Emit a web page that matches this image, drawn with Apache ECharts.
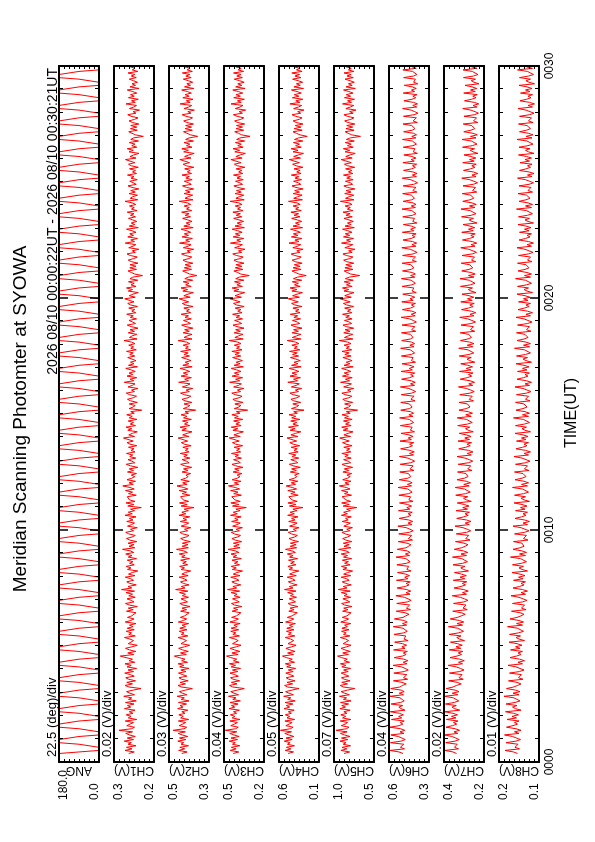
<!DOCTYPE html>
<html>
<head>
<meta charset="utf-8">
<script src="https://cdn.jsdelivr.net/npm/echarts/dist/echarts.min.js"></script>
<style>
html,body{margin:0;padding:0;background:#fff;width:595px;height:842px;overflow:hidden}
#wrap{position:absolute;left:0;top:0;width:842px;height:595px;transform-origin:0 0;transform:translate(0px,842px) rotate(-90deg)}
#chart{width:842px;height:595px;background:#fff}
</style>
</head>
<body>
<div id="wrap"><div id="chart"></div></div>
<script>
// ---------------- DATA ----------------
const titleText = 'Meridian Scanning Photomter at SYOWA';
const periodText = '2026 08/10 00:00:22UT - 2026 08/10 00:30:21UT';
const timeAxisTitle = 'TIME(UT)';
const panelNames = ['ANG', 'CH1(V)', 'CH2(V)', 'CH3(V)', 'CH4(V)', 'CH5(V)', 'CH6(V)', 'CH7(V)', 'CH8(V)'];
const divLabels = ['22.5 (deg)/div', '0.02 (V)/div', '0.03 (V)/div', '0.04 (V)/div', '0.05 (V)/div', '0.07 (V)/div', '0.04 (V)/div', '0.02 (V)/div', '0.01 (V)/div'];
const valueDiv = [22.5, 0.02, 0.03, 0.04, 0.05, 0.07, 0.04, 0.02, 0.01];
const valueMin = [0, 0.18, 0.27, 0.20, 0.15, 0.49, 0.28, 0.22, 0.12];
const valueMax = [180, 0.34, 0.51, 0.52, 0.55, 1.05, 0.60, 0.38, 0.20];
const maxLabels = ['180.0', '0.3', '0.5', '0.5', '0.6', '1.0', '0.6', '0.4', '0.2'];
const minLabels = ['0.0', '0.2', '0.3', '0.2', '0.1', '0.5', '0.3', '0.2', '0.1'];
const timeLabels = ['0000', '0010', '0020', '0030'];
const timeAxisMinSec = 0, timeAxisMaxSec = 1800, timeMajorSec = 600;
const sampleStartSec = 22, sampleStepSec = 4;

// scan angle (deg), one value per sample
const angDeg = [
180,90,0,0,0,0,90,180,180,180,180,90,0,0,0,0,90,180,180,180,180,90,0,0,0,0,90,180,180,180,180,90,0,0,0,0,90,180,180,180,180,90,0,0,0,0,90,180,180,180,
180,90,0,0,0,0,90,180,180,180,180,90,0,0,0,0,90,180,180,180,180,90,0,0,0,0,90,180,180,180,180,90,0,0,0,0,90,180,180,180,180,90,0,0,0,0,90,180,180,180,
180,90,0,0,0,0,90,180,180,180,180,90,0,0,0,0,90,180,180,180,180,90,0,0,0,0,90,180,180,180,180,90,0,0,0,0,90,180,180,180,180,90,0,0,0,0,90,180,180,180,
180,90,0,0,0,0,90,180,180,180,180,90,0,0,0,0,90,180,180,180,180,90,0,0,0,0,90,180,180,180,180,90,0,0,0,0,90,180,180,180,180,90,0,0,0,0,90,180,180,180,
180,90,0,0,0,0,90,180,180,180,180,90,0,0,0,0,90,180,180,180,180,90,0,0,0,0,90,180,180,180,180,90,0,0,0,0,90,180,180,180,180,90,0,0,0,0,90,180,180,180,
180,90,0,0,0,0,90,180,180,180,180,90,0,0,0,0,90,180,180,180,180,90,0,0,0,0,90,180,180,180,180,90,0,0,0,0,90,180,180,180,180,90,0,0,0,0,90,180,180,180,
180,90,0,0,0,0,90,180,180,180,180,90,0,0,0,0,90,180,180,180,180,90,0,0,0,0,90,180,180,180,180,90,0,0,0,0,90,180,180,180,180,90,0,0,0,0,90,180,180,180,
180,90,0,0,0,0,90,180,180,180,180,90,0,0,0,0,90,180,180,180,180,90,0,0,0,0,90,180,180,180,180,90,0,0,0,0,90,180,180,180,180,90,0,0,0,0,90,180,180,180,
180,90,0,0,0,0,90,180,180,180,180,90,0,0,0,0,90,180,180,180,180,90,0,0,0,0,90,180,180,180,180,90,0,0,0,0,90,180,180,180,180,90,0,0,0,0,90,180,180,180];

// channel values in mV, one value per sample
const ch1mV = [
281,259,296,268,290,252,284,271,299,262,287,255,278,293,266,320,270,258,289,276,262,295,249,283,272,291,264,279,256,298,273,286,260,294,251,282,269,301,258,277,290,263,232,280,296,
266,289,254,281,293,259,275,297,262,284,250,288,271,296,257,280,266,292,315,261,285,253,278,294,268,247,283,290,262,276,298,255,281,270,291,259,287,264,278,252,295,273,260,286,269,
274,252,290,263,283,247,279,294,260,271,288,255,281,266,292,258,310,269,284,251,277,289,262,273,295,256,282,267,245,286,272,291,259,278,264,287,250,283,268,293,261,275,306,257,280,
260,284,249,277,290,268,255,281,293,262,274,247,286,270,258,289,264,279,252,296,267,283,258,274,231,285,261,292,256,278,270,287,251,282,266,294,259,276,305,263,280,254,288,269,257,
271,250,286,262,279,245,274,291,257,268,284,253,277,265,290,256,272,260,282,249,276,288,263,270,302,258,281,266,247,285,269,292,254,275,262,283,248,279,267,289,259,273,229,280,264,
255,279,247,273,286,263,250,278,291,258,270,244,284,267,256,299,261,276,249,288,265,280,255,271,293,246,282,260,274,252,268,285,257,277,263,290,251,273,262,281,256,270,300,248,278,
268,249,283,258,276,244,271,287,254,266,280,250,275,263,289,253,269,257,281,246,274,285,260,268,297,255,279,264,243,283,266,290,252,272,259,282,245,276,265,226,257,271,284,250,277,
252,276,244,270,283,261,247,275,288,255,267,241,281,264,253,295,258,273,246,285,262,277,252,268,290,243,279,257,271,249,265,282,254,274,260,287,248,270,259,278,253,267,296,245,275,
265,246,280,255,273,241,268,284,251,263,277,247,272,260,286,250,266,254,278,243,271,282,257,265,294,252,276,261,240,280,263,287,249,269,256,279,242,273,262,223,254,268,281,247,274,
249,273,241,267,280,258,244,272,285,252,264,238,278,261,250,292,255,270,243,282,259,274,249,265,287,240,276,254,268,246,262,279,251,271,257,284,245,267,256,275,250,264,291,242,272];
const ch2mV = [
434,401,452,416,445,393,438,422,457,409,447,398,431,455,412,485,420,404,449,428,410,454,392,440,424,451,414,433,397,458,426,444,405,453,390,437,418,461,403,430,448,411,370,436,456,
411,444,395,434,450,403,427,453,408,439,390,446,421,455,399,434,414,449,478,406,441,394,429,452,417,386,438,447,405,426,456,397,436,420,449,402,445,411,431,392,454,424,404,442,416,
418,389,440,405,432,384,426,445,399,416,438,393,430,411,447,397,470,414,436,390,424,441,402,419,449,395,433,412,380,438,417,446,398,428,406,440,387,434,413,448,400,422,465,394,431,
396,430,382,421,440,407,390,428,445,398,417,379,437,411,392,442,404,426,386,450,409,433,394,419,360,437,401,447,392,425,413,441,385,431,405,449,397,422,462,402,428,388,439,410,395,
408,380,432,396,423,374,416,440,390,405,431,385,421,400,442,389,412,395,427,377,418,436,398,409,455,391,428,401,372,433,406,444,386,417,397,429,376,423,402,438,393,414,350,424,400,
385,420,373,414,432,396,379,418,441,388,407,368,430,401,384,452,393,416,376,437,399,424,386,410,444,371,427,391,413,378,403,434,387,419,395,440,380,411,394,425,386,405,455,372,420,
400,372,425,388,416,367,409,434,381,398,423,376,414,393,437,380,405,388,421,366,411,430,392,402,450,383,421,396,364,427,399,438,377,410,390,425,368,415,395,343,386,407,428,375,418,
379,414,367,408,426,390,373,412,435,382,401,362,424,395,378,447,387,410,370,431,393,418,380,404,438,365,421,385,407,372,397,428,381,413,389,434,374,405,388,419,380,399,449,366,414,
395,368,420,383,411,362,404,429,376,393,418,371,409,388,432,375,400,383,416,361,406,425,387,397,445,378,416,391,359,422,394,433,372,405,385,420,363,410,390,338,381,402,423,370,413,
375,410,363,404,422,386,369,408,431,378,397,358,420,391,374,443,383,406,366,427,389,414,376,400,434,361,417,381,403,368,393,424,377,409,385,430,370,401,384,415,376,395,445,362,410];
const ch3mV = [
447,402,470,423,461,394,452,430,478,412,464,399,441,474,418,510,428,406,466,437,413,473,392,455,433,469,419,444,397,480,434,460,407,472,389,450,424,484,404,440,466,414,358,450,476,
416,461,395,447,468,405,434,472,410,452,388,463,428,476,399,444,418,466,500,407,457,393,437,471,421,384,452,465,406,432,477,396,449,425,466,403,463,415,441,391,473,430,405,459,420,
425,385,455,410,444,378,436,460,398,421,452,391,440,416,463,395,492,419,449,386,431,457,401,424,466,392,446,417,372,453,422,462,396,437,408,456,382,447,418,464,400,429,486,391,442,
399,445,379,431,457,411,388,438,462,397,423,373,451,416,390,459,407,434,383,468,413,446,392,425,342,452,401,465,390,433,418,458,381,442,408,467,395,430,484,403,437,385,455,414,392,
415,377,447,400,435,368,426,456,389,408,444,381,432,404,460,387,419,394,439,371,427,452,398,413,478,390,441,405,365,449,410,462,383,425,396,443,370,436,406,457,392,421,331,437,402,
385,433,369,425,449,399,376,430,458,387,413,361,443,405,381,475,395,427,371,455,402,437,384,418,462,365,440,391,423,373,408,451,386,431,397,457,376,420,396,438,384,410,478,367,433,
405,368,439,389,427,360,416,448,379,400,435,372,423,395,451,376,410,385,430,359,420,444,391,406,472,381,432,398,355,441,402,455,373,417,389,436,361,426,398,318,386,411,441,369,430,
377,425,360,417,440,391,367,421,450,378,404,352,435,397,373,469,387,418,362,447,394,429,375,410,455,357,432,382,415,364,400,443,378,423,389,449,368,412,388,430,376,402,471,358,425,
398,362,432,382,420,354,409,441,372,393,428,366,416,388,444,370,403,378,423,353,413,437,384,399,465,375,425,391,349,434,395,448,367,410,382,429,355,419,392,312,379,404,434,363,423,
372,420,355,412,435,386,362,416,445,373,399,347,430,392,368,464,382,413,357,442,389,424,370,405,450,352,427,377,410,359,395,438,373,418,384,444,363,407,383,425,371,397,466,353,420];
const ch4mV = [
459,405,488,431,476,395,466,439,497,418,480,401,452,492,425,535,436,409,482,448,419,491,393,470,443,486,426,456,398,499,444,477,411,489,388,463,432,503,406,451,484,420,350,463,494,
414,470,390,451,478,402,437,482,408,457,384,473,431,487,395,449,417,476,515,405,464,389,441,481,421,379,460,474,403,433,488,392,456,427,476,400,472,414,446,386,484,432,402,467,419,
417,368,452,399,439,360,430,459,384,412,448,375,436,406,463,380,495,410,447,369,424,456,389,416,468,377,443,408,352,450,414,461,381,433,396,455,364,445,409,466,386,420,485,374,438,
379,436,355,418,450,393,366,426,457,377,407,349,444,400,369,453,389,424,360,463,396,438,371,411,310,446,382,461,368,421,402,452,358,432,390,462,374,418,478,385,427,362,449,397,372,
394,348,437,376,424,337,410,447,362,386,432,353,419,381,452,358,400,368,428,343,408,442,373,391,470,362,431,384,332,439,389,455,356,411,372,433,341,423,383,449,366,403,300,425,378,
353,412,334,402,431,371,343,408,441,355,386,324,426,379,347,462,365,405,336,440,374,420,351,393,448,329,424,360,399,337,381,436,354,414,368,444,342,398,367,422,352,384,468,331,417,
375,330,419,356,404,320,392,430,343,368,415,335,401,363,437,340,384,350,411,321,391,424,357,373,457,346,414,368,316,421,371,439,338,395,356,417,323,406,366,278,351,387,420,329,409,
339,397,319,388,418,357,328,394,428,341,372,309,412,364,333,450,350,391,321,426,360,406,336,379,435,314,410,346,385,323,367,423,340,400,354,431,328,384,353,409,338,370,455,316,403,
364,319,408,345,393,309,381,420,332,357,404,324,390,352,427,329,373,339,400,310,380,414,346,362,447,335,403,357,305,410,360,429,327,384,345,406,312,395,355,268,340,376,410,318,398,
330,388,310,379,409,348,319,385,419,332,363,300,403,355,324,441,341,382,312,417,351,397,327,370,426,305,401,337,376,314,358,414,331,391,345,422,319,375,344,400,329,361,446,307,394];
const ch5mV = [
910,832,953,870,937,818,922,882,966,857,945,826,903,960,866,1020,878,840,948,895,861,962,815,930,886,955,869,912,824,968,889,941,846,958,812,918,875,973,836,902,950,862,760,918,963,
860,941,825,906,945,843,894,950,851,915,818,940,883,960,832,906,863,944,1000,848,928,822,897,952,871,811,923,943,845,889,961,828,917,880,944,840,939,862,902,815,955,890,846,934,868,
881,811,930,855,914,799,901,943,829,868,926,818,909,866,948,823,990,868,919,808,888,934,838,872,950,816,915,859,790,925,870,946,825,902,848,933,803,917,861,949,836,882,985,815,910,
838,920,802,885,928,859,815,893,939,829,872,792,913,866,821,935,852,888,808,946,862,915,821,874,730,922,836,943,817,884,867,937,805,904,854,945,826,878,975,839,897,812,928,860,823,
869,803,925,843,906,789,886,937,817,851,915,810,898,850,940,814,874,829,913,797,882,930,836,857,970,818,911,852,783,921,857,942,810,888,836,917,796,903,848,938,823,877,720,908,846,
816,901,790,886,927,842,800,894,940,812,860,775,915,852,806,958,833,890,795,932,846,907,814,870,943,782,910,826,878,797,855,925,811,898,838,938,802,879,837,909,811,857,975,786,903,
852,788,914,826,895,775,874,925,803,838,903,797,885,834,930,800,862,814,901,776,872,918,823,846,963,808,900,841,770,910,844,932,796,876,823,907,781,891,836,690,816,866,908,784,897,
802,885,773,872,915,828,785,878,925,796,845,757,898,836,788,945,819,875,777,917,831,892,798,856,930,766,896,810,862,780,840,910,794,883,824,924,786,863,822,894,798,842,960,770,888,
838,773,900,811,880,758,861,912,789,824,890,782,871,820,917,786,848,800,887,760,858,904,808,832,950,795,886,826,753,896,830,919,781,862,809,893,766,877,822,680,802,852,894,769,883,
788,871,759,858,901,814,771,864,911,782,831,743,884,822,774,931,805,861,763,903,817,878,784,842,916,752,882,796,848,766,826,896,780,869,810,910,772,849,808,880,784,828,946,756,874];
const ch6mV = [
488,520,592,476,509,515,482,588,503,470,497,526,585,481,512,474,506,594,519,489,510,478,580,498,523,485,517,590,472,504,521,490,583,507,478,495,512,591,484,518,479,503,586,513,492,
462,496,565,451,484,490,458,561,477,446,471,500,567,455,487,449,482,558,493,463,486,453,563,472,497,459,491,555,447,480,495,466,560,482,454,468,488,566,459,492,454,478,557,488,466,
440,472,542,428,461,467,435,538,454,423,448,477,545,432,464,426,459,535,470,440,463,430,540,449,474,436,468,532,424,457,472,443,537,459,431,445,465,543,436,469,431,455,534,465,443,
424,456,526,412,445,451,419,522,438,407,432,461,529,416,448,410,443,519,454,424,447,414,524,433,458,420,452,516,408,441,456,427,521,443,415,429,449,527,420,453,415,439,518,449,427,
412,444,514,400,433,439,407,510,426,395,420,449,517,404,436,398,431,507,442,412,435,402,512,421,446,408,440,504,396,429,444,415,509,431,403,417,437,515,408,441,403,427,506,437,415,
404,436,506,392,425,431,399,502,418,387,412,441,509,396,428,390,423,499,434,404,427,394,504,413,438,400,432,496,388,421,436,407,501,423,395,409,429,507,400,433,395,419,498,429,407,
398,430,500,386,419,425,393,496,412,381,406,435,503,390,422,384,417,493,428,398,421,388,498,407,432,394,426,490,382,415,430,401,495,417,389,403,423,501,394,427,389,413,492,423,401,
393,425,495,381,414,420,388,491,407,376,401,430,498,385,417,379,412,488,423,393,416,383,493,402,427,389,421,485,377,410,425,396,490,412,384,398,418,496,389,422,384,408,487,418,396,
389,421,491,377,410,416,384,487,403,372,397,426,494,381,413,375,408,484,419,389,412,379,489,398,423,385,417,481,373,406,421,392,486,408,380,394,414,492,385,418,380,404,483,414,392,
386,418,488,374,407,413,381,484,400,369,394,423,491,378,410,372,405,481,416,386,409,376,486,395,420,382,414,478,370,403,418,389,483,405,377,391,411,489,382,415,377,401,480,411,389];
const ch7mV = [
330,344,376,322,338,341,327,373,336,319,333,349,378,325,340,318,335,372,346,329,342,324,370,332,350,326,345,377,317,337,348,331,374,339,321,328,343,379,325,347,320,336,371,344,330,
311,327,361,303,320,324,308,358,317,300,314,331,363,306,322,299,317,356,328,310,323,305,359,313,332,307,326,354,298,318,329,312,360,321,302,309,325,362,306,328,301,318,355,326,311,
295,311,345,287,304,308,292,342,301,284,298,315,347,290,306,283,301,340,312,294,307,289,343,297,316,291,310,338,282,302,313,296,344,305,286,293,309,346,290,312,285,302,339,310,295,
284,300,334,276,293,297,281,331,290,273,287,304,336,279,295,272,290,329,301,283,296,278,332,286,305,280,299,327,271,291,302,285,333,294,275,282,298,335,279,301,274,291,328,299,284,
276,292,326,268,285,289,273,323,282,265,279,296,328,271,287,264,282,321,293,275,288,270,324,278,297,272,291,319,263,283,294,277,325,286,267,274,290,327,271,293,266,283,320,291,276,
270,286,320,262,279,283,267,317,276,259,273,290,322,265,281,258,276,315,287,269,282,264,318,272,291,266,285,313,257,277,288,271,319,280,261,268,284,321,265,287,260,277,314,285,270,
265,281,315,257,274,278,262,312,271,254,268,285,317,260,276,253,271,310,282,264,277,259,313,267,286,261,280,308,252,272,283,266,314,275,256,263,279,316,260,282,255,272,309,280,265,
261,277,311,253,270,274,258,308,267,250,264,281,313,256,272,249,267,306,278,260,273,255,309,263,282,257,276,304,248,268,279,262,310,271,252,259,275,312,256,278,251,268,305,276,261,
257,273,307,249,266,270,254,304,263,246,260,277,309,252,268,245,263,302,274,256,269,251,305,259,278,253,272,300,244,264,275,258,306,267,248,255,271,308,252,274,247,264,301,272,257,
253,269,303,245,262,266,250,300,259,242,256,273,305,248,264,241,259,298,270,252,265,247,301,255,274,249,268,296,240,260,271,254,302,263,244,251,267,304,248,270,243,260,297,268,253];
const ch8mV = [
163,171,188,159,168,170,162,186,166,157,165,173,189,160,169,156,166,185,172,163,169,160,184,165,174,161,171,187,156,167,173,164,186,168,158,162,170,190,160,172,158,167,185,171,163,
156,164,181,152,161,163,155,179,159,150,158,166,182,153,162,149,159,178,165,156,162,153,177,158,167,154,164,180,149,160,166,157,179,161,151,155,163,183,153,165,151,160,178,164,156,
150,158,175,146,155,157,149,173,153,144,152,160,176,147,156,143,153,172,159,150,156,147,171,152,161,148,158,174,143,154,160,151,173,155,145,149,157,177,147,159,145,154,172,158,150,
146,154,171,142,151,153,145,169,149,140,148,156,172,143,152,139,149,168,155,146,152,143,167,148,157,144,154,170,139,150,156,147,169,151,141,145,153,173,143,155,141,150,168,154,146,
144,152,169,140,149,151,143,167,147,138,146,154,170,141,150,137,147,166,153,144,150,141,165,146,155,142,152,168,137,148,154,145,167,149,139,143,151,171,141,153,139,148,166,152,144,
142,150,167,138,147,149,141,165,145,136,144,152,168,139,148,135,145,164,151,142,148,139,163,144,153,140,150,166,135,146,152,143,165,147,137,141,149,169,139,151,137,146,164,150,142,
140,148,165,136,145,147,139,163,143,134,142,150,166,137,146,133,143,162,149,140,146,137,161,142,151,138,148,164,133,144,150,141,163,145,135,139,147,167,137,149,135,144,162,148,140,
138,146,163,134,143,145,137,161,141,132,140,148,164,135,144,131,141,160,147,138,144,135,159,140,149,136,146,162,131,142,148,139,161,143,133,137,145,165,135,147,133,142,160,146,138,
137,145,162,133,142,144,136,160,140,131,139,147,163,134,143,130,140,159,146,137,143,134,158,139,148,135,145,161,130,141,147,138,160,142,132,136,144,164,134,146,132,141,159,145,137,
136,144,161,132,141,143,135,159,139,130,138,146,162,133,142,129,139,158,145,136,142,133,157,138,147,134,144,160,129,140,146,137,159,141,131,135,143,163,133,145,131,140,158,144,136];

// ---------------- BUILD ----------------
const FONT = "'Liberation Sans', Arial, Helvetica, sans-serif";
const chart = echarts.init(document.getElementById('chart'), null, {renderer: 'canvas', width: 842, height: 595});
const panelValues = [
  angDeg,
  ch1mV.map(v => v / 1000), ch2mV.map(v => v / 1000), ch3mV.map(v => v / 1000), ch4mV.map(v => v / 1000),
  ch5mV.map(v => v / 1000), ch6mV.map(v => v / 1000), ch7mV.map(v => v / 1000), ch8mV.map(v => v / 1000)
];

const PLOT_LEFT = 80, PLOT_WIDTH = 696, PANEL_TOP0 = 59, PANEL_STEP = 55, PANEL_H = 40;
const grids = [], xAxes = [], yAxes = [], series = [], graphics = [];

for (let i = 0; i < panelNames.length; i++) {
  const top = PANEL_TOP0 + PANEL_STEP * i;
  grids.push({left: PLOT_LEFT, width: PLOT_WIDTH, top: top, height: PANEL_H, containLabel: false});
  const timeBase = {
    type: 'value', gridIndex: i, min: timeAxisMinSec, max: timeAxisMaxSec, interval: timeMajorSec, z: 5,
    axisLine: {show: true, onZero: false, lineStyle: {color: '#000', width: 2}},
    axisTick: {show: true, inside: true, length: 9, lineStyle: {color: '#000', width: 1.5}},
    minorTick: {show: true, splitNumber: 10, length: 4, lineStyle: {color: '#000', width: 1}},
    splitLine: {show: false}, minorSplitLine: {show: false}
  };
  xAxes.push(Object.assign({}, timeBase, {
    position: 'bottom',
    axisLabel: {show: i === panelNames.length - 1, margin: 5, fontSize: 12, color: '#000', fontFamily: FONT,
      formatter: v => timeLabels[Math.round((v - timeAxisMinSec) / timeMajorSec)] || ''}
  }));
  xAxes.push(Object.assign({}, timeBase, {position: 'top', axisLabel: {show: false}}));

  const vmin = valueMin[i], vmax = valueMax[i];
  const valBase = {
    type: 'value', gridIndex: i, min: vmin, max: vmax, interval: valueDiv[i], z: 5,
    axisLine: {show: true, onZero: false, lineStyle: {color: '#000', width: 2}},
    axisTick: {show: true, inside: true, length: 3, lineStyle: {color: '#000', width: 1}},
    splitLine: {show: false}
  };
  yAxes.push(Object.assign({}, valBase, {
    position: 'left',
    axisLabel: {
      show: true, margin: 38, align: 'left', fontSize: 12, color: '#000', fontFamily: FONT,
      showMinLabel: true, showMaxLabel: true,
      formatter: (v) => {
        if (Math.abs(v - vmax) < 1e-9) return '{hi|' + maxLabels[i] + '}';
        if (Math.abs(v - vmin) < 1e-9) return '{lo|' + minLabels[i] + '}';
        return '';
      },
      rich: {
        hi: {padding: [9, 0, 0, 0], fontSize: 12, color: '#000', fontFamily: FONT},
        lo: {padding: [0, 0, 9, 0], fontSize: 12, color: '#000', fontFamily: FONT}
      }
    }
  }));
  yAxes.push(Object.assign({}, valBase, {position: 'right', axisLabel: {show: false}}));

  const vals = panelValues[i];
  const data = vals.map((v, k) => [sampleStartSec + k * sampleStepSec, v]);
  series.push({
    type: 'line', xAxisIndex: 2 * i, yAxisIndex: 2 * i, data: data,
    showSymbol: false, symbol: 'none', smooth: false, z: 2,
    lineStyle: {color: '#ff0000', width: 1}, animation: false
  });

  // per-panel scale label and axis name
  graphics.push({type: 'text', x: 85, y: top - 6.5,
    style: {text: divLabels[i], font: '13px ' + FONT, fill: '#000', textAlign: 'left', textVerticalAlign: 'middle'}});
  graphics.push({type: 'text', x: 71.5, y: top + PANEL_H / 2, rotation: Math.PI / 2,
    style: {text: panelNames[i], font: '12px ' + FONT, fill: '#000', textAlign: 'center', textVerticalAlign: 'middle'}});
}

graphics.push({type: 'text', x: 423, y: 21,
  style: {text: titleText, font: '19px ' + FONT, fill: '#000', textAlign: 'center', textVerticalAlign: 'middle'}});
graphics.push({type: 'text', x: 774, y: 53,
  style: {text: periodText, font: '14px ' + FONT, fill: '#000', textAlign: 'right', textVerticalAlign: 'middle'}});
graphics.push({type: 'text', x: 429, y: 572,
  style: {text: timeAxisTitle, font: '16px ' + FONT, fill: '#000', textAlign: 'center', textVerticalAlign: 'middle'}});

chart.setOption({
  animation: false,
  backgroundColor: '#fff',
  grid: grids, xAxis: xAxes, yAxis: yAxes, series: series,
  graphic: graphics
});
</script>
</body>
</html>
